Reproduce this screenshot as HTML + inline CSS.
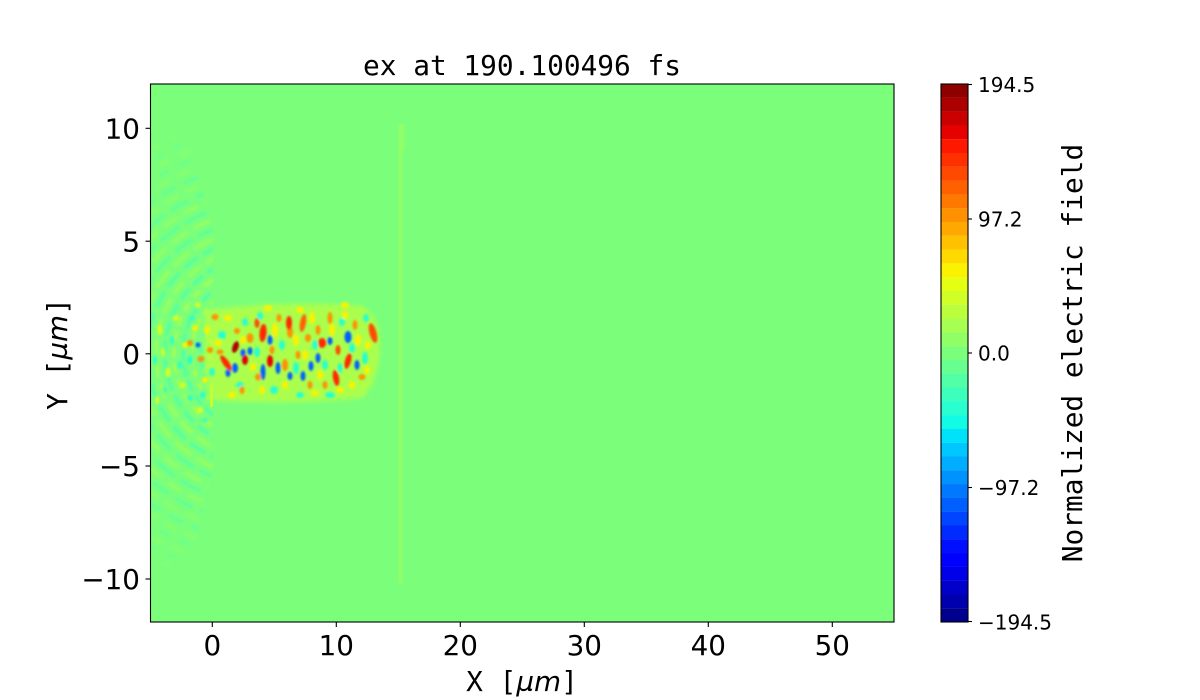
<!DOCTYPE html>
<html><head><meta charset="utf-8"><style>
html,body{margin:0;padding:0;background:#fff;}
svg{display:block;}
.t{font-family:"DejaVu Sans","Liberation Sans",sans-serif;font-size:27.8px;fill:#000;}
.c{font-family:"DejaVu Sans","Liberation Sans",sans-serif;font-size:20px;fill:#000;}
.m{font-family:"DejaVu Sans Mono","Liberation Mono",monospace;font-size:27.8px;fill:#000;}
</style></head><body>
<svg width="1200" height="700" viewBox="0 0 1200 700" xmlns="http://www.w3.org/2000/svg">
<defs>
<clipPath id="ax"><rect x="150.5" y="84" width="743.5" height="538"/></clipPath>
<clipPath id="arcs"><polygon points="150,100 176,100 213,225 213,470 196,540 180,570 150,600"/></clipPath>
<filter id="b1" x="-50%" y="-50%" width="200%" height="200%"><feGaussianBlur stdDeviation="1.0"/></filter>
<filter id="b2" x="-50%" y="-50%" width="200%" height="200%"><feGaussianBlur stdDeviation="2.2"/></filter>
</defs>
<rect width="1200" height="700" fill="#fff"/>
<rect x="150.5" y="84" width="743.5" height="538" fill="rgb(123,255,123)"/>
<g clip-path="url(#ax)">
 <g clip-path="url(#arcs)" filter="url(#b1)" fill="none" stroke-width="3.2">
  <circle cx="262" cy="353" r="52" stroke="rgb(229,255,18)" opacity="0.55" stroke-dasharray="9 4"/>
  <circle cx="262" cy="353" r="61" stroke="rgb(39,255,208)" opacity="0.55" stroke-dasharray="11 5"/>
  <circle cx="262" cy="353" r="70" stroke="rgb(208,255,39)" opacity="0.55" stroke-dasharray="8 5"/>
  <circle cx="262" cy="353" r="79" stroke="rgb(39,255,208)" opacity="0.55" stroke-dasharray="12 4"/>
  <circle cx="262" cy="353" r="88" stroke="rgb(208,255,39)" opacity="0.5" stroke-dasharray="10 6"/>
  <circle cx="262" cy="353" r="97" stroke="rgb(39,255,208)" opacity="0.5" stroke-dasharray="14 5"/>
  <circle cx="262" cy="353" r="106" stroke="rgb(187,255,60)" opacity="0.5" stroke-dasharray="16 6"/>
  <circle cx="262" cy="353" r="115" stroke="rgb(39,255,208)" opacity="0.5" stroke-dasharray="18 6"/>
  <circle cx="262" cy="353" r="124" stroke="rgb(187,255,60)" opacity="0.45" stroke-dasharray="20 7"/>
  <circle cx="262" cy="353" r="133" stroke="rgb(60,255,187)" opacity="0.5" stroke-dasharray="22 6"/>
  <circle cx="262" cy="353" r="142" stroke="rgb(187,255,60)" opacity="0.4" stroke-dasharray="18 8"/>
  <circle cx="262" cy="353" r="151" stroke="rgb(60,255,187)" opacity="0.5" stroke-dasharray="24 6"/>
  <circle cx="262" cy="353" r="160" stroke="rgb(187,255,60)" opacity="0.35" stroke-dasharray="16 8"/>
  <circle cx="262" cy="353" r="169" stroke="rgb(60,255,187)" opacity="0.45" stroke-dasharray="20 8"/>
  <circle cx="262" cy="353" r="178" stroke="rgb(166,255,81)" opacity="0.35" stroke-dasharray="14 9"/>
  <circle cx="262" cy="353" r="187" stroke="rgb(60,255,187)" opacity="0.4" stroke-dasharray="16 9"/>
  <circle cx="262" cy="353" r="196" stroke="rgb(166,255,81)" opacity="0.3" stroke-dasharray="12 10"/>
  <circle cx="262" cy="353" r="205" stroke="rgb(81,255,166)" opacity="0.35" stroke-dasharray="12 10"/>
  <circle cx="262" cy="353" r="214" stroke="rgb(166,255,81)" opacity="0.3" stroke-dasharray="10 12"/>
  <circle cx="262" cy="353" r="223" stroke="rgb(81,255,166)" opacity="0.3" stroke-dasharray="8 12"/>
  <circle cx="262" cy="353" r="232" stroke="rgb(166,255,81)" opacity="0.25" stroke-dasharray="6 14"/>
 </g>
 <!-- mottled left center -->
 <g filter="url(#b1)">
  <g fill="rgb(229,255,18)" opacity="0.85">
   <ellipse cx="160" cy="330" rx="2.5" ry="5"/><ellipse cx="168" cy="372" rx="2.5" ry="5"/>
   <ellipse cx="176" cy="318" rx="3" ry="3"/><ellipse cx="183" cy="385" rx="3" ry="3"/>
   <ellipse cx="157" cy="400" rx="2" ry="4"/><ellipse cx="198" cy="305" rx="3" ry="3"/>
   <ellipse cx="200" cy="410" rx="3" ry="3"/><ellipse cx="163" cy="352" rx="2" ry="4"/>
  </g>
  <g fill="rgb(39,255,208)" opacity="0.85">
   <ellipse cx="155" cy="360" rx="2" ry="5"/><ellipse cx="172" cy="340" rx="2.5" ry="4"/>
   <ellipse cx="180" cy="365" rx="2.5" ry="4"/><ellipse cx="192" cy="318" rx="3" ry="2.5"/>
   <ellipse cx="190" cy="398" rx="3" ry="3"/><ellipse cx="165" cy="390" rx="2" ry="3"/>
   <ellipse cx="205" cy="420" rx="3" ry="2"/>
  </g>
 </g>
 <!-- vertical line at x=15 -->
 <rect x="398.5" y="124" width="4.5" height="459" fill="rgb(150,255,100)" opacity="0.7"/>
 <rect x="399" y="124" width="6" height="26" fill="rgb(150,255,100)" opacity="0.5"/>
 <rect x="210.5" y="385" width="2" height="22" fill="rgb(229,255,18)"/>
 <!-- blob base -->
 <path d="M206,310 Q290,300 362,306 Q381,318 380,345 Q379,382 362,398 Q290,405 210,400 Q200,353 206,310 Z" fill="rgb(187,255,60)" opacity="0.75" filter="url(#b2)"/>
 <g filter="url(#b1)">
  <g fill="rgb(39,255,208)">
   <ellipse cx="222" cy="335" rx="4" ry="4"/><ellipse cx="245" cy="322" rx="3" ry="4"/>
   <ellipse cx="257" cy="352" rx="3" ry="5"/><ellipse cx="282" cy="345" rx="3" ry="5"/>
   <ellipse cx="296" cy="368" rx="3" ry="6"/><ellipse cx="315" cy="345" rx="3" ry="5"/>
   <ellipse cx="342" cy="322" rx="3" ry="4"/><ellipse cx="352" cy="348" rx="3" ry="5"/>
   <ellipse cx="365" cy="358" rx="3" ry="6"/><ellipse cx="330" cy="395" rx="5" ry="3"/>
   <ellipse cx="274" cy="390" rx="4" ry="4"/><ellipse cx="240" cy="385" rx="4" ry="3"/>
   <ellipse cx="212" cy="372" rx="3" ry="4"/><ellipse cx="300" cy="395" rx="4" ry="3"/>
   <ellipse cx="366" cy="318" rx="3" ry="4"/><ellipse cx="325" cy="365" rx="3" ry="5"/>
   <ellipse cx="260" cy="316" rx="3" ry="4"/><ellipse cx="190" cy="360" rx="3" ry="4"/>
   <ellipse cx="203" cy="395" rx="3" ry="3"/><ellipse cx="340" cy="368" rx="2.5" ry="5"/>
  </g>
  <g fill="rgb(250,242,0)">
   <ellipse cx="228" cy="318" rx="4" ry="3"/><ellipse cx="218" cy="343" rx="4" ry="3"/>
   <ellipse cx="253" cy="367" rx="3" ry="4"/><ellipse cx="275" cy="330" rx="3" ry="7"/>
   <ellipse cx="296" cy="340" rx="3" ry="6"/><ellipse cx="312" cy="318" rx="3" ry="6"/>
   <ellipse cx="332" cy="330" rx="3" ry="6"/><ellipse cx="345" cy="315" rx="3" ry="4"/>
   <ellipse cx="358" cy="340" rx="3" ry="6"/><ellipse cx="367" cy="370" rx="3" ry="4"/>
   <ellipse cx="340" cy="390" rx="4" ry="3"/><ellipse cx="315" cy="393" rx="4" ry="3"/>
   <ellipse cx="285" cy="385" rx="3" ry="4"/><ellipse cx="232" cy="395" rx="4" ry="3"/>
   <ellipse cx="205" cy="380" rx="3" ry="3"/><ellipse cx="268" cy="308" rx="4" ry="3"/>
   <ellipse cx="300" cy="310" rx="4" ry="3"/><ellipse cx="345" cy="305" rx="4" ry="3"/>
   <ellipse cx="262" cy="390" rx="3" ry="4"/><ellipse cx="320" cy="375" rx="3" ry="5"/>
   <ellipse cx="368" cy="345" rx="3" ry="4"/><ellipse cx="207" cy="330" rx="3" ry="4"/>
   <ellipse cx="185" cy="345" rx="3" ry="3"/><ellipse cx="195" cy="328" rx="3" ry="3"/>
   <ellipse cx="243" cy="340" rx="3" ry="4"/><ellipse cx="305" cy="355" rx="3" ry="5"/>
   <ellipse cx="352" cy="385" rx="3" ry="4"/>
  </g>
  <g fill="rgb(255,145,0)">
   <ellipse cx="250" cy="338" rx="3.5" ry="5"/><ellipse cx="215" cy="317" rx="3.5" ry="3"/>
   <ellipse cx="237" cy="331" rx="3" ry="3"/><ellipse cx="201" cy="359" rx="3.5" ry="3"/>
   <ellipse cx="210" cy="350" rx="3" ry="3"/><ellipse cx="258" cy="377" rx="3" ry="3.5"/>
   <ellipse cx="285" cy="365" rx="3" ry="6"/><ellipse cx="308" cy="338" rx="3" ry="4"/>
   <ellipse cx="318" cy="330" rx="2.5" ry="5"/><ellipse cx="325" cy="385" rx="2.5" ry="4"/>
   <ellipse cx="310" cy="385" rx="2.5" ry="4"/><ellipse cx="362" cy="377" rx="3.5" ry="3"/>
   <ellipse cx="290" cy="332" rx="3" ry="6"/><ellipse cx="279" cy="318" rx="2.5" ry="4"/>
   <ellipse cx="298" cy="355" rx="2.5" ry="4"/><ellipse cx="355" cy="325" rx="2.5" ry="5"/>
   <ellipse cx="330" cy="318" rx="2.5" ry="6"/><ellipse cx="323" cy="343" rx="3" ry="4"/>
   <ellipse cx="190" cy="343" rx="3" ry="3"/><ellipse cx="220" cy="352" rx="3.5" ry="2.5"/>
   <ellipse cx="242" cy="390" rx="2.5" ry="4"/><ellipse cx="272" cy="350" rx="2.5" ry="4"/>
  </g>
  <g fill="rgb(0,95,255)">
   <ellipse cx="235" cy="368" rx="3" ry="5"/><ellipse cx="263" cy="372" rx="2.5" ry="8"/>
   <ellipse cx="198" cy="345" rx="2.5" ry="2.5"/><ellipse cx="278" cy="368" rx="2.5" ry="6"/>
   <ellipse cx="270" cy="340" rx="2.5" ry="5"/><ellipse cx="228" cy="373" rx="2.5" ry="4"/>
   <ellipse cx="348" cy="337" rx="3.5" ry="6"/><ellipse cx="303" cy="376" rx="2.5" ry="5"/>
   <ellipse cx="290" cy="376" rx="2.5" ry="4"/><ellipse cx="357" cy="365" rx="2.5" ry="5"/>
   <ellipse cx="250" cy="351" rx="2.5" ry="4"/><ellipse cx="318" cy="358" rx="2.5" ry="5"/>
   <ellipse cx="330" cy="341" rx="2.5" ry="4"/><ellipse cx="311" cy="366" rx="2.5" ry="5"/>
   <ellipse cx="243" cy="353" rx="2.5" ry="4"/>
  </g>
  <g fill="rgb(255,40,0)">
   <ellipse cx="235.5" cy="347" rx="3" ry="6" transform="rotate(20 235.5 347)" fill="rgb(172,0,0)"/>
   <ellipse cx="245" cy="360" rx="3" ry="5" fill="rgb(220,0,0)"/>
   <ellipse cx="226" cy="363" rx="3" ry="9" transform="rotate(-35 226 363)"/>
   <ellipse cx="263" cy="333" rx="3.5" ry="9" transform="rotate(5 263 333)"/>
   <ellipse cx="270" cy="361" rx="3" ry="6" fill="rgb(231,0,0)"/>
   <ellipse cx="289" cy="323" rx="3" ry="7"/>
   <ellipse cx="303" cy="323" rx="3" ry="9" transform="rotate(10 303 323)" fill="rgb(255,97,0)"/>
   <ellipse cx="322" cy="343" rx="4" ry="5"/>
   <ellipse cx="373" cy="333" rx="3.5" ry="10" transform="rotate(-15 373 333)" fill="rgb(255,72,0)"/>
   <ellipse cx="336" cy="378" rx="3" ry="8" transform="rotate(-10 336 378)"/>
   <ellipse cx="338" cy="350" rx="2.5" ry="5" fill="rgb(255,72,0)"/>
   <ellipse cx="348" cy="361" rx="3" ry="8" transform="rotate(15 348 361)"/>
   <ellipse cx="257" cy="323" rx="2.5" ry="5" fill="rgb(255,72,0)"/>
  </g>
 </g>
</g>
<!-- axes frame -->
<rect x="150.5" y="84" width="743.5" height="538" fill="none" stroke="#000" stroke-width="1.1"/>
<g stroke="#000" stroke-width="1.1">
 <line x1="212.3" y1="622" x2="212.3" y2="627"/><line x1="336.3" y1="622" x2="336.3" y2="627"/>
 <line x1="460.3" y1="622" x2="460.3" y2="627"/><line x1="584.3" y1="622" x2="584.3" y2="627"/>
 <line x1="708.3" y1="622" x2="708.3" y2="627"/><line x1="832.3" y1="622" x2="832.3" y2="627"/>
 <line x1="145.5" y1="128.3" x2="150.5" y2="128.3"/><line x1="145.5" y1="241.2" x2="150.5" y2="241.2"/>
 <line x1="145.5" y1="353.8" x2="150.5" y2="353.8"/><line x1="145.5" y1="466" x2="150.5" y2="466"/>
 <line x1="145.5" y1="579" x2="150.5" y2="579"/>
</g>
<g class="t" text-anchor="middle">
 <text x="212.3" y="655">0</text><text x="336.3" y="655">10</text><text x="460.3" y="655">20</text>
 <text x="584.3" y="655">30</text><text x="708.3" y="655">40</text><text x="832.3" y="655">50</text>
</g>
<g class="t" text-anchor="end">
 <text x="140" y="138.5">10</text><text x="140" y="251.4">5</text><text x="140" y="364">0</text>
 <text x="140" y="476.2">−5</text><text x="140" y="589.2">−10</text>
</g>
<text class="m" x="522" y="75" text-anchor="middle">ex at 190.100496 fs</text>
<text x="522" y="691" text-anchor="middle" class="m"><tspan>X [</tspan><tspan font-family="DejaVu Sans, Liberation Sans, sans-serif" font-style="italic">µm</tspan><tspan>]</tspan></text>
<text transform="translate(67,354) rotate(-90)" text-anchor="middle" class="m"><tspan>Y [</tspan><tspan font-family="DejaVu Sans, Liberation Sans, sans-serif" font-style="italic">µm</tspan><tspan>]</tspan></text>
<g>
<rect x="941" y="84.00" width="27" height="13.9" fill="rgb(142,0,0)"/>
<rect x="941" y="97.79" width="27" height="13.9" fill="rgb(172,0,0)"/>
<rect x="941" y="111.59" width="27" height="13.9" fill="rgb(202,0,0)"/>
<rect x="941" y="125.38" width="27" height="13.9" fill="rgb(231,0,0)"/>
<rect x="941" y="139.18" width="27" height="13.9" fill="rgb(255,24,0)"/>
<rect x="941" y="152.97" width="27" height="13.9" fill="rgb(255,48,0)"/>
<rect x="941" y="166.77" width="27" height="13.9" fill="rgb(255,72,0)"/>
<rect x="941" y="180.56" width="27" height="13.9" fill="rgb(255,97,0)"/>
<rect x="941" y="194.36" width="27" height="13.9" fill="rgb(255,121,0)"/>
<rect x="941" y="208.15" width="27" height="13.9" fill="rgb(255,145,0)"/>
<rect x="941" y="221.95" width="27" height="13.9" fill="rgb(255,169,0)"/>
<rect x="941" y="235.74" width="27" height="13.9" fill="rgb(255,193,0)"/>
<rect x="941" y="249.54" width="27" height="13.9" fill="rgb(255,218,0)"/>
<rect x="941" y="263.33" width="27" height="13.9" fill="rgb(250,242,0)"/>
<rect x="941" y="277.13" width="27" height="13.9" fill="rgb(229,255,18)"/>
<rect x="941" y="290.92" width="27" height="13.9" fill="rgb(208,255,39)"/>
<rect x="941" y="304.72" width="27" height="13.9" fill="rgb(187,255,60)"/>
<rect x="941" y="318.51" width="27" height="13.9" fill="rgb(166,255,81)"/>
<rect x="941" y="332.31" width="27" height="13.9" fill="rgb(144,255,102)"/>
<rect x="941" y="346.10" width="27" height="13.9" fill="rgb(123,255,123)"/>
<rect x="941" y="359.90" width="27" height="13.9" fill="rgb(102,255,144)"/>
<rect x="941" y="373.69" width="27" height="13.9" fill="rgb(81,255,166)"/>
<rect x="941" y="387.49" width="27" height="13.9" fill="rgb(60,255,187)"/>
<rect x="941" y="401.28" width="27" height="13.9" fill="rgb(39,255,208)"/>
<rect x="941" y="415.08" width="27" height="13.9" fill="rgb(18,252,229)"/>
<rect x="941" y="428.87" width="27" height="13.9" fill="rgb(0,226,250)"/>
<rect x="941" y="442.67" width="27" height="13.9" fill="rgb(0,199,255)"/>
<rect x="941" y="456.46" width="27" height="13.9" fill="rgb(0,173,255)"/>
<rect x="941" y="470.26" width="27" height="13.9" fill="rgb(0,147,255)"/>
<rect x="941" y="484.05" width="27" height="13.9" fill="rgb(0,121,255)"/>
<rect x="941" y="497.85" width="27" height="13.9" fill="rgb(0,95,255)"/>
<rect x="941" y="511.64" width="27" height="13.9" fill="rgb(0,69,255)"/>
<rect x="941" y="525.44" width="27" height="13.9" fill="rgb(0,43,255)"/>
<rect x="941" y="539.23" width="27" height="13.9" fill="rgb(0,16,255)"/>
<rect x="941" y="553.03" width="27" height="13.9" fill="rgb(0,0,255)"/>
<rect x="941" y="566.82" width="27" height="13.9" fill="rgb(0,0,232)"/>
<rect x="941" y="580.62" width="27" height="13.9" fill="rgb(0,0,202)"/>
<rect x="941" y="594.41" width="27" height="13.9" fill="rgb(0,0,172)"/>
<rect x="941" y="608.21" width="27" height="13.79" fill="rgb(0,0,142)"/>
</g>
<rect x="941" y="84" width="27" height="538" fill="none" stroke="#000" stroke-width="1.1"/>
<g stroke="#000" stroke-width="1.1">
 <line x1="968" y1="84.5" x2="972" y2="84.5"/><line x1="968" y1="219" x2="972" y2="219"/>
 <line x1="968" y1="353" x2="972" y2="353"/><line x1="968" y1="487.5" x2="972" y2="487.5"/>
 <line x1="968" y1="621.5" x2="972" y2="621.5"/>
</g>
<g class="c">
 <text x="978" y="92">194.5</text><text x="978" y="226.5">97.2</text>
 <text x="978" y="360.5">0.0</text><text x="978" y="495">−97.2</text>
 <text x="978" y="629.5">−194.5</text>
</g>
<text class="m" transform="translate(1082,353) rotate(-90)" text-anchor="middle">Normalized electric field</text>
</svg>
</body></html>
